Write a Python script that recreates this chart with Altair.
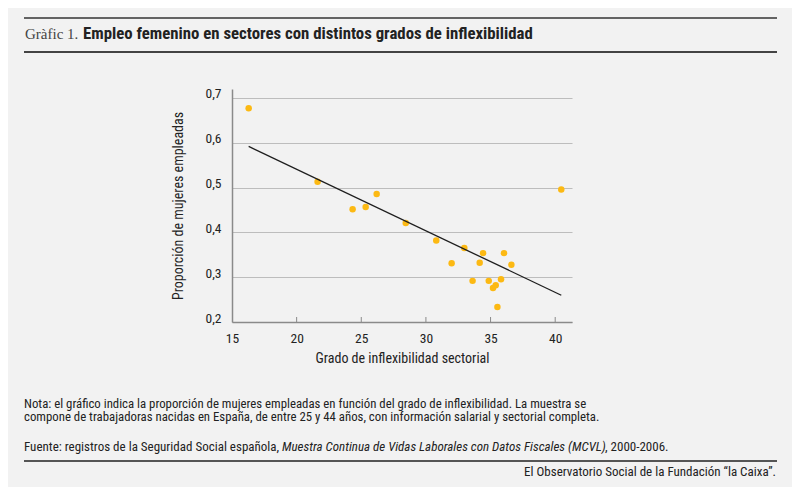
import altair as alt
import pandas as pd

# Scatter data
x_vals = [16.29, 21.62, 24.33, 25.34, 26.19, 28.44, 30.80, 31.99, 32.97, 33.61,
          34.16, 34.42, 34.86, 35.19, 35.40, 35.53, 35.81, 36.04, 36.61, 40.47]
y_vals = [0.677, 0.513, 0.4515, 0.4567, 0.4858, 0.4209, 0.382, 0.3313, 0.365, 0.2918,
          0.332, 0.3537, 0.2918, 0.2761, 0.282, 0.2336, 0.2955, 0.3537, 0.3276, 0.4955]

# Fitted line end points
fit_x = [16.29, 40.47]
fit_y = [0.5918, 0.2597]

x_ticks = [15, 20, 25, 30, 35, 40]
y_ticks = [0.2, 0.3, 0.4, 0.5, 0.6, 0.7]
inner_ticks = [20, 25, 30, 35, 40]

title_prefix = "Gràfic 1."
title_main = "Empleo femenino en sectores con distintos grados de inflexibilidad"
x_title = "Grado de inflexibilidad sectorial"
y_title = "Proporción de mujeres empleadas"
note1 = "Nota: el gráfico indica la proporción de mujeres empleadas en función del grado de inflexibilidad. La muestra se"
note2 = "compone de trabajadoras nacidas en España, de entre 25 y 44 años, con información salarial y sectorial completa."
src_a = "Fuente: registros de la Seguridad Social española, "
src_b = "Muestra Continua de Vidas Laborales con Datos Fiscales (MCVL)"
src_c = ", 2000-2006."
credit = "El Observatorio Social de la Fundación “la Caixa”."

FONT = "'Liberation Sans Narrow', 'Roboto Condensed', 'Liberation Sans', sans-serif"
SERIF = "'Liberation Serif', 'DejaVu Serif', serif"
W, H = 340, 233
OX, OY = 232, 89  # plot origin on the page (for annotation offsets)

pts = pd.DataFrame({"x": x_vals, "y": y_vals})
fit = pd.DataFrame({"x": fit_x, "y": fit_y})
tk = pd.DataFrame({"x": inner_ticks})

xscale = alt.Scale(domain=[15, 41.3], nice=False, zero=False)
yscale = alt.Scale(domain=[0.2, 0.72], nice=False, zero=False)

xaxis = alt.Axis(values=x_ticks, grid=False, ticks=False, domainColor="#8a8a8a",
                 domainWidth=1.5, labelFont=FONT, labelFontSize=13.5, labelColor="#222",
                 labelPadding=9, labelFlush=False, title=x_title, titleFont=FONT,
                 titleFontSize=14, titleFontWeight="normal", titleColor="#222",
                 titlePadding=7)
yaxis = alt.Axis(values=y_ticks, grid=True, gridColor="#bdbdbd", gridWidth=1,
                 ticks=False, domainColor="#8a8a8a", domainWidth=1.5,
                 labelExpr="replace(format(datum.value, '.1f'), '.', ',')",
                 labelFont=FONT, labelFontSize=13.5, labelColor="#222", labelPadding=11,
                 labelBaseline="alphabetic", title=y_title, titleFont=FONT,
                 titleFontSize=14, titleFontWeight="normal", titleColor="#222",
                 titlePadding=20)

X = alt.X("x:Q", scale=xscale, axis=xaxis)
Y = alt.Y("y:Q", scale=yscale, axis=yaxis)

points = alt.Chart(pts).mark_circle(size=42, color="#FCB913", opacity=1).encode(x=X, y=Y)
line = alt.Chart(fit).mark_line(color="#1e1e1e", strokeWidth=1.3).encode(x=X, y=Y)
ticks = alt.Chart(tk).mark_rule(color="#8a8a8a", strokeWidth=1).encode(
    x=X, y=alt.value(H - 5), y2=alt.value(H),
)

one = alt.Data(values=[{}])


def hrule(y, w, color):
    return alt.Chart(one).mark_rule(color=color, strokeWidth=w).encode(
        x=alt.value(24 - OX), x2=alt.value(777 - OX), y=alt.value(y - OY))


def txt(s, x, y, size, font=FONT, weight="normal", style="normal", align="left", color="#222"):
    return alt.Chart(one).mark_text(
        text=s, font=font, fontSize=size, fontWeight=weight, fontStyle=style,
        align=align, baseline="alphabetic", color=color,
    ).encode(x=alt.value(x - OX), y=alt.value(y - OY))


layers = [
    points, line, ticks,
    hrule(18, 1.6, "#333"),
    hrule(52, 2, "#444"),
    txt(title_prefix, 25, 39, 15, font=SERIF, color="#444"),
    txt(title_main, 83, 39, 16.8, weight="bold", color="#222"),
    txt(note1, 24, 407.5, 12.8),
    txt(note2, 24, 421, 12.8),
    txt(src_a, 24, 451, 13),
    txt(src_b, 282, 451, 13, style="italic"),
    txt(src_c, 605, 451, 13),
    hrule(461, 2, "#555"),
    txt(credit, 776, 476, 13, align="right"),
]

chart = alt.layer(*layers).properties(
    width=W, height=H,
    autosize=alt.AutoSizeParams(type="none"),
    padding={"left": OX - 8, "top": OY - 8, "right": 784 - (OX - 8) - W, "bottom": 479 - (OY - 8) - H},
).configure(background="#f2f2f2").configure_view(stroke=None)

chart.save("out.html", embed_options={"renderer": "svg", "actions": False})
